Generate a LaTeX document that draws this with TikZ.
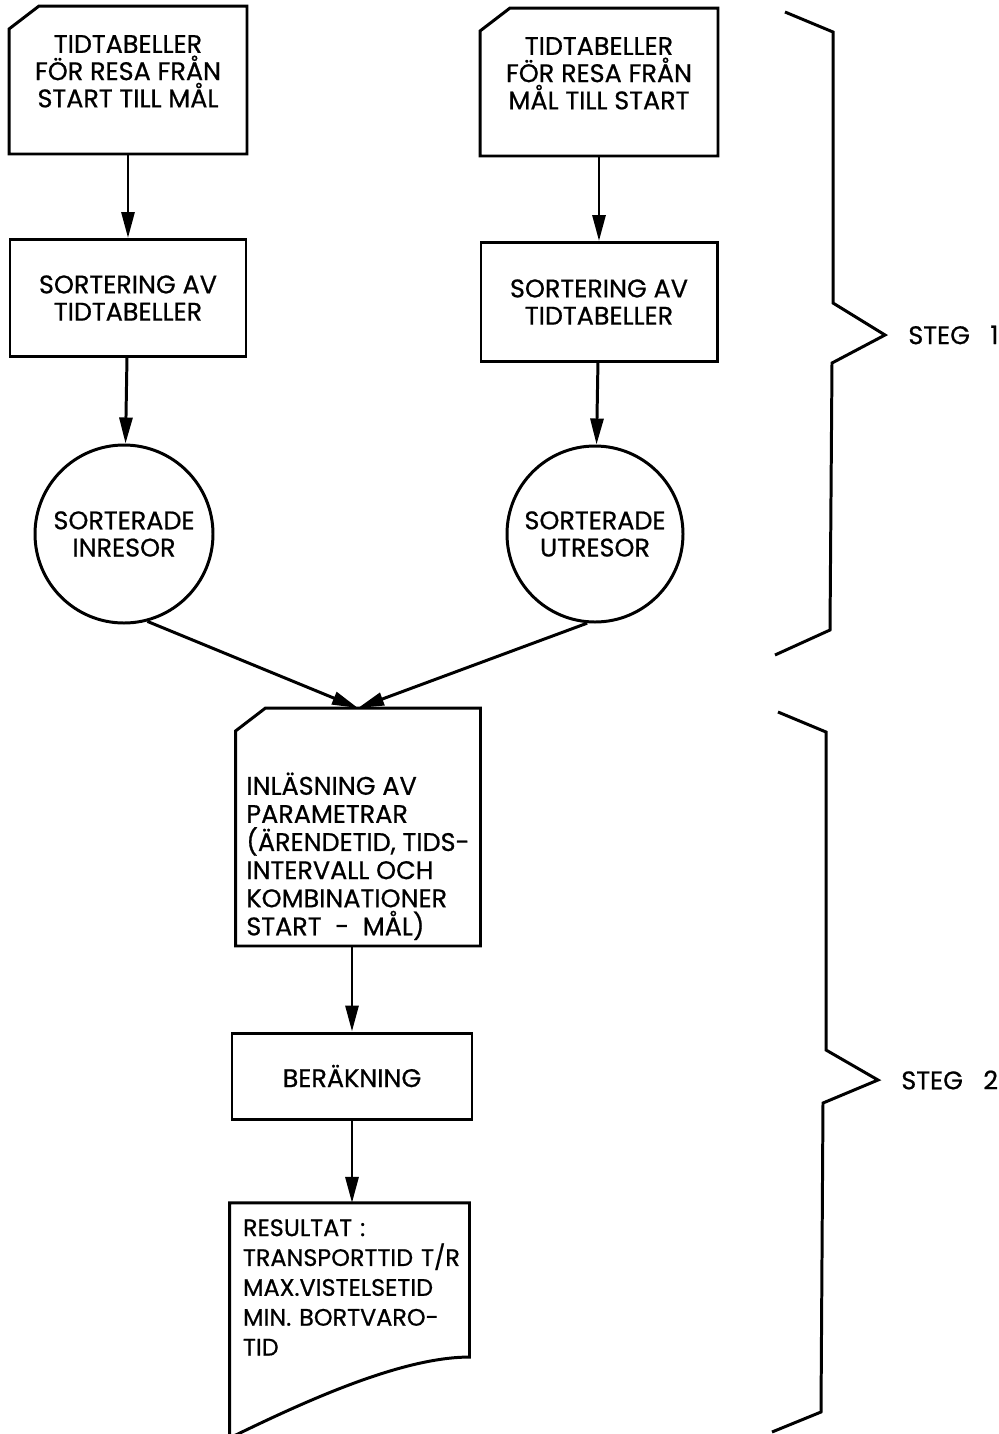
\documentclass[tikz,border=0pt]{standalone}
\usepackage{fontspec}
\setmainfont{Poppins}[FakeBold=0.7]
\usetikzlibrary{arrows.meta,calc}

\begin{document}
\begin{tikzpicture}[x=0.02cm,y=-0.02cm,line width=1.7pt,font=\fontsize{14.5}{15.5}\selectfont]

	% INPUTS
	\newcommand{\px}{0.02cm}			% one grid unit, for node sizes
	\newcommand{\cardw}{235}			% width of the two timetable cards
	\newcommand{\cardh}{145}			% height of the two timetable cards
	\newcommand{\sortw}{236}			% width of the sorting boxes

	% fixed frame of the page
	\useasboundingbox (0,0) rectangle (998,1434);

	% styles
	% card: rectangle with its top left corner cut off
	\tikzstyle{card}=[rectangle,inner sep=0pt,align=center,append after command={\pgfextra{\let\cardnode\tikzlastnode
		\draw ($(\cardnode.north west)+(30,0)$) -- (\cardnode.north east) -- (\cardnode.south east) -- (\cardnode.south west) -- ($(\cardnode.north west)+(0,23)$) -- cycle;}}]
	\tikzstyle{box}=[draw,rectangle,inner sep=0pt,align=center]
	\tikzstyle{store}=[draw,circle,inner sep=0pt,align=center]
	\tikzstyle{flow}=[-{Triangle[length=5.2mm,width=2.6mm]}]

	% left column: start -> goal
	\node[card,minimum width=\cardw*\px,minimum height=\cardh*\px] (tid1) at (128,80) {TIDTABELLER\\FÖR RESA FRÅN\\START TILL MÅL\rule[-10pt]{0pt}{0pt}};
	\node[box,minimum width=\sortw*\px,minimum height=117*\px] (sort1) at (128,298) {SORTERING AV\\TIDTABELLER};
	\node[store,minimum size=178*\px] (inresor) at (124,534) {SORTERADE\\INRESOR};

	% right column: goal -> start
	\node[card,minimum width=\cardw*\px,minimum height=\cardh*\px] (tid2) at (599,82) {TIDTABELLER\\FÖR RESA FRÅN\\MÅL TILL START\rule[-10pt]{0pt}{0pt}};
	\node[box,minimum width=\sortw*\px,minimum height=119*\px] (sort2) at (599,302) {SORTERING AV\\TIDTABELLER};
	\node[store,minimum size=176*\px] (utresor) at (595,534) {SORTERADE\\UTRESOR};

	% common part
	\node[card,minimum width=242*\px,minimum height=235*\px,align=left,font=\fontsize{14.5}{16}\selectfont] (param) at (358,827) {\rule{0pt}{46pt}INLÄSNING AV\\PARAMETRAR\\(ÄRENDETID, TIDS-\\INTERVALL OCH\\KOMBINATIONER\\START\ \ -\ \ MÅL)};
	\node[box,minimum width=240*\px,minimum height=86*\px] (berakning) at (352,1076) {BERÄKNING};
	\node[rectangle,inner xsep=12*\px,inner ysep=0pt,minimum width=237*\px,minimum height=146*\px,text width=213*\px,align=left,font=\fontsize{13.6}{17}\selectfont] (resultat) at (349.5,1280) {\rule{0pt}{18pt}RESULTAT :\\TRANSPORTTID~T/R\\MAX.VISTELSETID\\MIN. BORTVARO-\\TID};

	% document outline with the wavy bottom
	\draw (resultat.north west) -- (resultat.north east) -- (resultat.south east) .. controls ($(resultat.south east)+(-70,0)$) and ($(resultat.south west)+(70,47)$) .. ($(resultat.south west)+(0,81)$) -- cycle;

	% connectors
	\draw[flow] (tid1) -- (sort1);
	\draw[flow] (sort1) -- (inresor);
	\draw[flow] (tid2) -- (sort2);
	\draw[flow] (sort2) -- (utresor);
	\draw[flow] (inresor.-75) -- (param.north);
	\draw[flow] (utresor.-95) -- (param.north);
	\draw[flow] (param.south -| berakning.north) -- (berakning.north);
	\draw[flow] (berakning.south) -- (resultat.north -| berakning.south);

	% braces for the two steps
	\draw (785,12) -- (833,32) -- (833,303) -- (885,335) node[right=16*\px] (steg1) {STEG\hspace{.8em}1} -- (832,363) -- (830,630) -- (775,655);
	\draw (778,712) -- (826,732) -- (826,1050) -- (878,1080) node[right=16*\px] (steg2) {STEG\hspace{.8em}2} -- (823,1103) -- (821,1412) -- (772,1432);

\end{tikzpicture}
\end{document}
